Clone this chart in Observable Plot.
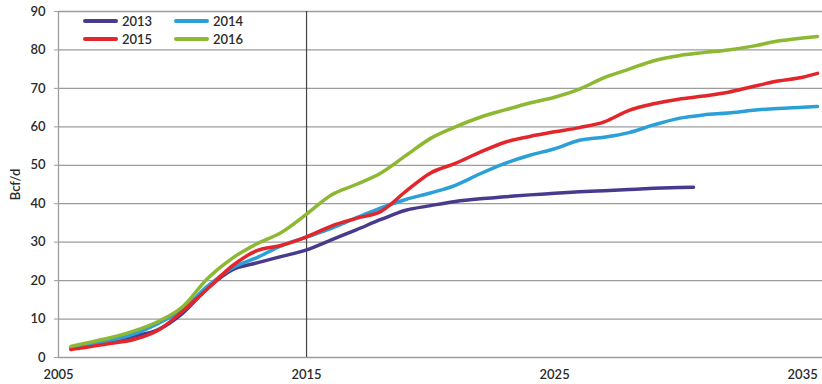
<!DOCTYPE html>
<html>
<head>
<meta charset="utf-8">
<script src="https://cdn.jsdelivr.net/npm/d3@7"></script>
<script src="https://cdn.jsdelivr.net/npm/@observablehq/plot@0.6"></script>
<style>
  html, body { margin: 0; padding: 0; background: #fff; }
  #chart { position: relative; width: 822px; height: 384px; font-family: Lato, "Open Sans", sans-serif; }
  #legend { position: absolute; left: 83px; top: 13px; display: grid; grid-template-columns: 91px 80px; row-gap: 2px; font-size: 13px; font-weight: 600; color: #2a2a2a; }
  .item { display: flex; align-items: center; height: 16px; }
  .sw { width: 35px; height: 4px; border-radius: 2px; margin-right: 4px; }
</style>
</head>
<body>
<div id="chart"><div id="legend"></div></div>
<script>
const series = ["2013", "2014", "2015", "2016"];
const colors = ["#4a3a8e", "#2a9fd8", "#e2262c", "#8cb832"];

const years = [2005.5, 2006, 2007, 2008, 2009, 2010, 2011, 2012, 2013, 2014, 2015, 2016, 2017, 2018, 2019, 2020,
  2021, 2022, 2023, 2024, 2025, 2026, 2027, 2028, 2029, 2030, 2031, 2032, 2033, 2034, 2035, 2035.6];
const years2013 = [2005.5, 2006, 2007, 2008, 2009, 2010, 2011, 2012, 2013, 2014, 2015, 2016, 2017, 2018, 2019, 2020,
  2021, 2022, 2023, 2024, 2025, 2026, 2027, 2028, 2029, 2030, 2030.6];

const v2013 = [2.3, 2.8, 3.8, 5.5, 7.2, 11.5, 18.0, 22.8, 24.6, 26.3, 28.0, 30.6, 33.2, 35.9, 38.3, 39.5,
  40.6, 41.3, 41.8, 42.3, 42.7, 43.1, 43.4, 43.7, 44.0, 44.2, 44.3];
const v2014 = [2.5, 3.1, 4.3, 6.0, 8.8, 12.5, 18.5, 23.3, 26.0, 29.1, 31.3, 33.6, 36.3, 38.9, 41.1, 42.8,
  44.8, 47.8, 50.5, 52.6, 54.3, 56.5, 57.3, 58.5, 60.5, 62.2, 63.1, 63.6, 64.3, 64.8, 65.1, 65.3];
const v2015 = [2.1, 2.5, 3.6, 4.6, 7.0, 12.0, 17.8, 23.8, 27.8, 29.2, 31.4, 34.2, 36.2, 38.0, 43.2, 48.0,
  50.5, 53.4, 56.0, 57.5, 58.7, 59.8, 61.3, 64.3, 66.0, 67.2, 68.0, 69.0, 70.5, 71.9, 72.9, 73.9];
const v2016 = [2.9, 3.6, 5.0, 6.8, 9.3, 13.2, 20.5, 25.8, 29.6, 32.6, 37.3, 42.3, 45.0, 48.0, 52.5, 57.0,
  60.0, 62.5, 64.4, 66.2, 67.7, 69.8, 72.8, 75.0, 77.2, 78.5, 79.3, 80.0, 81.0, 82.3, 83.1, 83.5];

const xTicks = [2005, 2015, 2025, 2035];
const yTicks = [0, 10, 20, 30, 40, 50, 60, 70, 80, 90];
const markerYear = 2015;
const yLabel = "Bcf/d";

const seriesData = [
  {name: "2013", xs: years2013, vs: v2013},
  {name: "2014", xs: years, vs: v2014},
  {name: "2015", xs: years, vs: v2015},
  {name: "2016", xs: years, vs: v2016}
];
const rows = seriesData.flatMap(s => s.vs.map((v, i) => ({series: s.name, year: s.xs[i], value: v})));

const chart = Plot.plot({
  width: 822,
  height: 384,
  marginLeft: 58,
  marginRight: 0,
  marginTop: 11,
  marginBottom: 27,
  style: {fontFamily: "Lato, 'Open Sans', sans-serif", fontSize: "13px", fontWeight: 600, color: "#2a2a2a", background: "#fff"},
  x: {domain: [2005, 2035.8]},
  y: {domain: [0, 90]},
  color: {domain: series, range: colors},
  marks: [
    Plot.gridY(yTicks, {stroke: "#9c9c9c", strokeOpacity: 1, strokeWidth: 1.3}),
    Plot.ruleX([2005], {stroke: "#9c9c9c", strokeWidth: 1.3}),
    Plot.axisY(yTicks, {tickSize: 4, tickPadding: 9, stroke: "#9c9c9c", label: yLabel, labelAnchor: "center", labelArrow: "none", labelOffset: 48, fontSize: 13}),
    Plot.axisX(xTicks, {tickSize: 0, tickPadding: 12, tickFormat: d => String(d), label: null, fontSize: 13}),
    Plot.ruleX([markerYear], {stroke: "#444", strokeWidth: 1.2}),
    Plot.line(rows, {x: "year", y: "value", z: "series", stroke: "series", strokeWidth: 3.5, curve: "monotone-x"})
  ]
});
document.getElementById("chart").prepend(chart);

const legend = document.getElementById("legend");
series.forEach((s, i) => {
  const item = document.createElement("div");
  item.className = "item";
  const sw = document.createElement("span");
  sw.className = "sw";
  sw.style.background = colors[i];
  const t = document.createElement("span");
  t.textContent = s;
  item.append(sw, t);
  legend.append(item);
});
</script>
</body>
</html>
